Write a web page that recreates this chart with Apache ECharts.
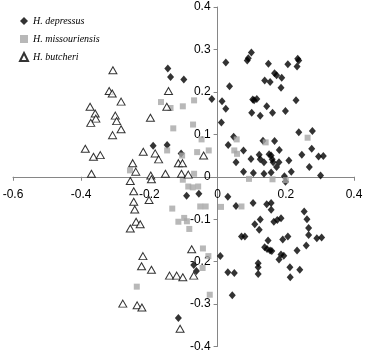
<!DOCTYPE html>
<html>
<head>
<meta charset="utf-8">
<script src="https://cdn.jsdelivr.net/npm/echarts@6/dist/echarts.min.js"></script>
<style>html,body{margin:0;padding:0;background:#fff;}#c{width:368px;height:355px;}</style>
</head>
<body>
<div id="c"></div>
<script>
const seriesNames = ['H. depressus', 'H. missouriensis', 'H. butcheri'];
const xTicks = { min: -0.6, max: 0.4, interval: 0.2 };
const yTicks = { min: -0.4, max: 0.4, interval: 0.1 };

const depressus = [
[-0.146,0.255],[-0.138,0.235],[-0.099,0.229],[-0.189,0.073],[-0.148,0.075],[-0.107,0.055],
[-0.017,0.183],[0.024,0.269],[0.035,0.213],[0.013,0.178],[0.024,0.160],[0.011,0.128],[0.031,0.075],[0.054,0.034],[0.076,0.062],[0.076,0.012],
[0.087,0.274],[0.090,0.279],[0.099,0.293],[0.098,0.042],[0.105,0.009],[0.103,0.182],[0.107,0.180],[0.115,0.183],[0.100,0.151],[0.125,0.144],
[0.138,0.227],[0.154,0.223],[0.149,0.266],[0.144,0.166],[0.161,0.151],[0.122,0.052],[0.125,0.041],[0.136,0.034],[0.136,0.007],[0.133,0.085],[0.167,0.084],
[0.151,0.053],[0.157,0.050],[0.160,0.041],[0.163,0.034],[0.157,0.010],[0.167,0.244],[0.173,0.239],[0.188,0.233],[0.186,0.210],[0.199,0.155],
[0.181,0.063],[0.180,0.034],[0.173,0.023],[0.196,0.001],[0.209,0.038],[0.216,0.012],[0.206,0.265],[0.235,0.278],[0.238,0.274],[0.233,0.260],[0.230,0.180],
[0.238,0.105],[0.278,0.108],[0.276,0.066],[0.247,0.052],[0.269,0.023],[0.296,0.048],[0.310,0.049],[0.302,0.003],[0.047,0.094],
[-0.091,-0.045],[-0.055,-0.040],[0.030,-0.047],[0.054,-0.069],[0.104,-0.062],[0.144,-0.065],[0.157,-0.062],[0.157,-0.078],[0.165,-0.106],[0.175,-0.102],
[0.186,-0.098],[0.125,-0.101],[0.109,-0.112],[0.122,-0.125],[0.070,-0.141],[0.080,-0.141],[0.148,-0.150],[0.138,-0.166],[0.145,-0.170],[0.154,-0.174],
[0.191,-0.148],[0.206,-0.141],[0.186,-0.183],[0.194,-0.186],[0.180,-0.195],[0.233,-0.174],[0.212,-0.213],[0.241,-0.219],[0.213,-0.237],[0.119,-0.204],
[0.119,-0.213],[0.119,-0.229],[0.254,-0.082],[0.262,-0.100],[0.267,-0.121],[0.267,-0.137],[0.260,-0.162],[0.291,-0.145],[0.305,-0.143],[0.008,-0.187],
[0.030,-0.225],[0.049,-0.227],[0.043,-0.279],[-0.070,-0.208],[-0.062,-0.222],[-0.115,-0.333],[0.199,-0.012],[0.159,-0.175]
];

const missouriensis = [
[-0.166,0.176],[-0.138,0.162],[-0.102,0.166],[-0.130,0.114],[-0.148,0.062],[-0.257,0.015],[-0.104,0.050],[-0.069,0.180],[-0.072,0.123],
[-0.047,0.088],[-0.060,0.058],[-0.026,0.062],[0.056,0.088],[0.049,0.062],[0.057,0.054],[0.141,0.081],[0.264,0.092],[-0.069,0.007],
[-0.102,-0.007],[-0.086,-0.023],[-0.073,-0.025],[-0.057,-0.023],[-0.133,-0.075],[-0.051,-0.070],[-0.035,-0.070],[-0.098,-0.097],[-0.115,-0.106],
[-0.090,-0.105],[-0.083,-0.123],[-0.043,-0.169],[-0.027,-0.187],[-0.044,-0.215],[-0.237,-0.259],[-0.023,-0.278],[0.010,-0.071],[0.070,-0.070],
[0.092,-0.005],[0.161,-0.006],[0.200,-0.008]
];

const butcheri = [
[-0.307,0.251],[-0.318,0.202],[-0.309,0.196],[-0.283,0.177],[-0.374,0.165],[-0.359,0.149],[-0.357,0.137],[-0.372,0.127],[-0.300,0.144],
[-0.296,0.131],[-0.283,0.112],[-0.308,0.098],[-0.197,0.139],[-0.144,0.202],[-0.149,0.165],[-0.388,0.066],[-0.364,0.047],[-0.344,0.051],
[-0.218,0.059],[-0.183,0.055],[-0.173,0.041],[-0.249,0.032],[-0.240,0.012],[-0.115,0.032],[-0.103,0.032],[-0.370,0.007],[-0.196,0.003],
[-0.153,0.007],[-0.106,0.007],[-0.086,0.005],[-0.041,0.050],
[-0.256,-0.010],[-0.194,-0.006],[-0.246,-0.034],[-0.201,-0.055],[-0.246,-0.059],[-0.243,-0.077],[-0.239,-0.106],[-0.227,-0.112],[-0.256,-0.122],
[-0.219,-0.187],[-0.223,-0.211],[-0.194,-0.219],[-0.141,-0.233],[-0.120,-0.233],[-0.102,-0.237],[-0.278,-0.299],[-0.236,-0.303],[-0.222,-0.308],
[-0.110,-0.358],[-0.076,-0.171],[-0.070,-0.233]
];

const W = 368, H = 355;
const G = { left: 13, right: 14, top: 7, bottom: 8.5 };
const gw = W - G.left - G.right, gh = H - G.top - G.bottom;
// distance from grid edge to the zero line, so axes (line, ticks, labels) cross at the origin
const xAxisOffset = -gh * (0 - yTicks.min) / (yTicks.max - yTicks.min);
const yAxisOffset = -gw * (0 - xTicks.min) / (xTicks.max - xTicks.min);

const chart = echarts.init(document.getElementById('c'), null, { renderer: 'canvas' });
const lineStyle = { color: '#868686', width: 1 };
const labelStyle = { color: '#000', fontFamily: 'Liberation Sans, Arial, sans-serif', fontSize: 12 };
chart.setOption({
  animation: false,
  backgroundColor: '#fff',
  grid: Object.assign({ containLabel: false, outerBoundsMode: 'none' }, G),
  xAxis: {
    type: 'value', position: 'bottom', offset: xAxisOffset,
    min: xTicks.min, max: xTicks.max, interval: xTicks.interval,
    splitLine: { show: false },
    axisLine: { show: true, onZero: false, lineStyle: lineStyle },
    axisTick: { show: true, inside: false, length: 4, lineStyle: lineStyle },
    axisLabel: Object.assign({ margin: 12, showMinLabel: true, showMaxLabel: true }, labelStyle)
  },
  yAxis: {
    type: 'value', position: 'left', offset: yAxisOffset,
    min: yTicks.min, max: yTicks.max, interval: yTicks.interval,
    splitLine: { show: false },
    axisLine: { show: true, onZero: false, lineStyle: lineStyle },
    axisTick: { show: true, inside: false, length: 4, lineStyle: lineStyle },
    axisLabel: Object.assign({ margin: 7, showMinLabel: true, showMaxLabel: true }, labelStyle)
  },
  legend: {
    orient: 'vertical', left: 19, top: 16, padding: 0,
    itemWidth: 8, itemHeight: 8, itemGap: 8,
    textStyle: { fontFamily: 'Liberation Serif, Times New Roman, serif', fontStyle: 'italic', fontSize: 10, lineHeight: 10, color: '#000' },
    data: [
      { name: seriesNames[0], icon: 'diamond' },
      { name: seriesNames[1], icon: 'rect' },
      { name: seriesNames[2], icon: 'triangle' }
    ]
  },
  series: [
    { name: seriesNames[0], type: 'scatter', symbol: 'diamond', symbolSize: [7, 8], data: depressus,
      itemStyle: { color: '#000' } },
    { name: seriesNames[1], type: 'scatter', symbol: 'rect', symbolSize: 6, data: missouriensis,
      itemStyle: { color: '#A6A6A6' } },
    { name: seriesNames[2], type: 'scatter', symbol: 'triangle', symbolSize: [8, 7], data: butcheri,
      itemStyle: { color: '#fff', borderColor: '#000', borderWidth: 1 } }
  ]
});
</script>
</body>
</html>
